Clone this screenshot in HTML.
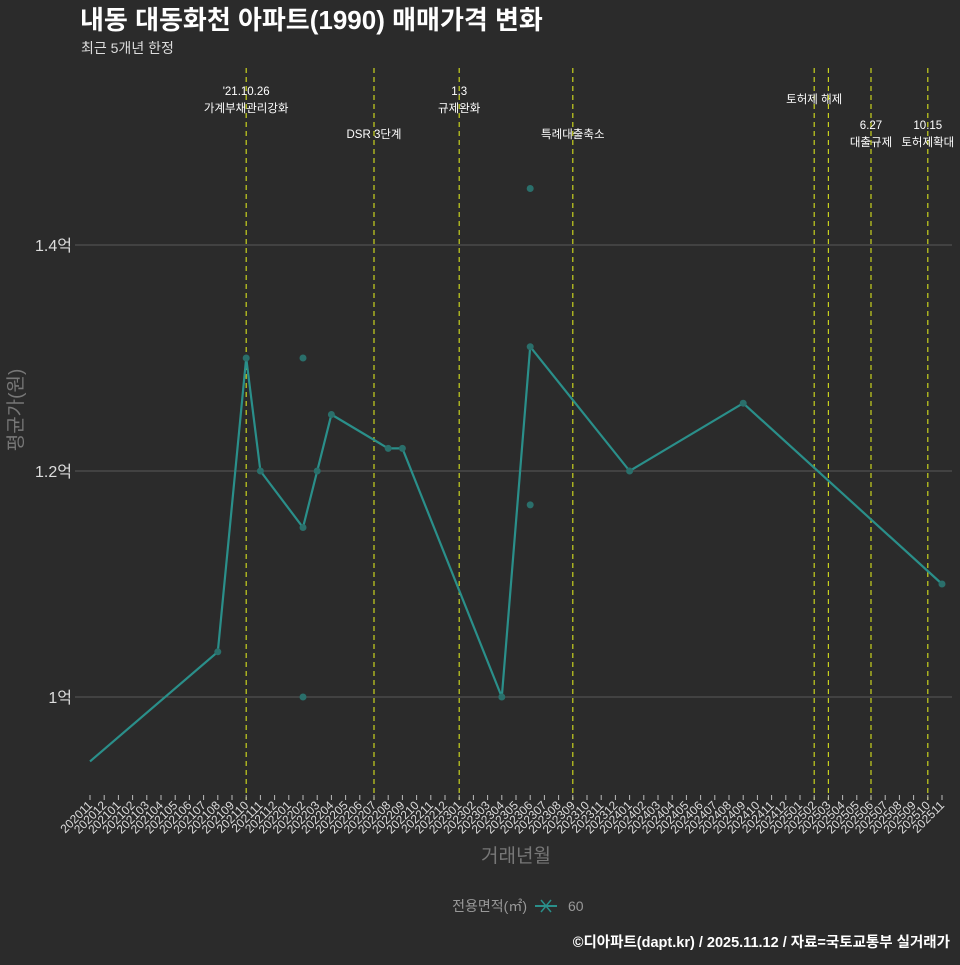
<!DOCTYPE html>
<html><head><meta charset="utf-8"><style>
body{margin:0;background:#2b2b2b;}
svg text{font-family:"Liberation Sans","Noto Sans CJK KR",sans-serif;}
</style></head><body>
<svg width="960" height="960" xmlns="http://www.w3.org/2000/svg">
<rect width="960" height="960" fill="#2b2b2b"/>
<text x="80" y="29" font-size="26" font-weight="bold" fill="#fff">내동 대동화천 아파트(1990) 매매가격 변화</text>
<text x="81" y="53" font-size="14" fill="#ddd">최근 5개년 한정</text>
<g id="grid"></g><g id="vlines"></g><g id="xaxis"></g>
<path id="line" fill="none" stroke="#2a8f8a" stroke-width="2.2"/>
<g id="pts"></g>
<text x="22" y="410" font-size="19" fill="#777" transform="rotate(-90 22 410)" text-anchor="middle">평균가(원)</text>
<text x="516" y="862" font-size="19" fill="#777" text-anchor="middle">거래년월</text>
<g>
<text x="527" y="911" font-size="14" fill="#999" text-anchor="end">전용면적(㎡)</text>
<line x1="535" y1="906" x2="557" y2="906" stroke="#2a8f8a" stroke-width="2"/>
<path d="M541,900L551,912M551,900L541,912" stroke="#2a8f8a" stroke-width="1.5"/>
<text x="568" y="911" font-size="14" fill="#999">60</text>
</g>
<text x="950" y="947" font-size="14.5" font-weight="bold" fill="#fff" text-anchor="end">©디아파트(dapt.kr) / 2025.11.12 / 자료=국토교통부 실거래가</text>
</svg>
<script>
const months=[];for(let y=2020,m=11;months.length<61;){months.push(y+String(m).padStart(2,'0'));m++;if(m>12){m=1;y++;}}
const lineMonths=['202011','202108','202110','202111','202202','202203','202204','202208','202209','202304','202306','202401','202409','202511'];
const lineValues=[0.943,1.04,1.30,1.20,1.15,1.20,1.25,1.22,1.22,1.0,1.31,1.20,1.26,1.10];
const extraMonths=['202202','202202','202306','202306'];
const extraValues=[1.30,1.0,1.45,1.17];
const yTicks=[1.0,1.2,1.4];
const yTickLabels=['1억','1.2억','1.4억'];
const eventMonths=['202110','202207','202301','202309','202502','202503','202506','202510'];
const eventLabels=[["'21.10.26","가계부채관리강화"],["","DSR 3단계"],["1.3","규제완화"],["","특례대출축소"],["토허제 해제",""],["",""],["6.27","대출규제"],["10.15","토허제확대"]];
const NS='http://www.w3.org/2000/svg';
const X=i=>90+14.2*i, xm=m=>X(months.indexOf(m)), Y=v=>697-(v-1)*1130;
function mk(t,a,p){const e=document.createElementNS(NS,t);for(const k in a)e.setAttribute(k,a[k]);document.getElementById(p).appendChild(e);return e;}
yTicks.forEach((v,i)=>{const l=mk('line',{x1:75,x2:952,y1:Y(v),y2:Y(v),stroke:'#5a5a5a','stroke-width':1},'grid');


const t=mk('text',{x:72,y:Y(v)+6,'font-size':16,fill:'#ddd','text-anchor':'end'},'grid');t.textContent=yTickLabels[i];

});
eventMonths.forEach((m,i)=>{const x=xm(m);const l=mk('line',{x1:x,x2:x,y1:68,y2:800,stroke:'#c8d21e','stroke-width':1.2,'stroke-dasharray':'5,4'},'vlines');


const [a,b]=eventLabels[i];const hi=(i==0||i==2);const y0=(i==4)?103:(hi?95:(i>=6?129:138));
if(i==4){const t=mk('text',{x:x,y:103,'font-size':11.5,fill:'#fff','text-anchor':'middle'},'vlines');t.textContent=a;return;}
if(a){const t=mk('text',{x:x,y:y0,'font-size':11.5,fill:'#fff','text-anchor':'middle'},'vlines');t.textContent=a;}
if(b){const t=mk('text',{x:x,y:a?y0+17:y0,'font-size':11.5,fill:'#fff','text-anchor':'middle'},'vlines');t.textContent=b;}});
months.forEach((m,i)=>{const x=X(i);const tk=mk('line',{x1:x,x2:x,y1:795,y2:800,stroke:'#bbb'},'xaxis');


const t=mk('text',{x:x+3,y:806,'font-size':12,fill:'#ddd','text-anchor':'end',transform:`rotate(-45 ${x+3} 806)`},'xaxis');t.textContent=m;

});
document.getElementById('line').setAttribute('d',lineMonths.map((m,i)=>(i?'L':'M')+xm(m)+','+Y(lineValues[i])).join(''));
lineMonths.slice(1).forEach((m,i)=>{const c=mk('circle',{cx:xm(m),cy:Y(lineValues[i+1]),r:3.5,fill:'#2a6f6b'},'pts');

});
extraMonths.forEach((m,i)=>{const c=mk('circle',{cx:xm(m),cy:Y(extraValues[i]),r:3.5,fill:'#2a6f6b'},'pts');

});
</script>
</body></html>
